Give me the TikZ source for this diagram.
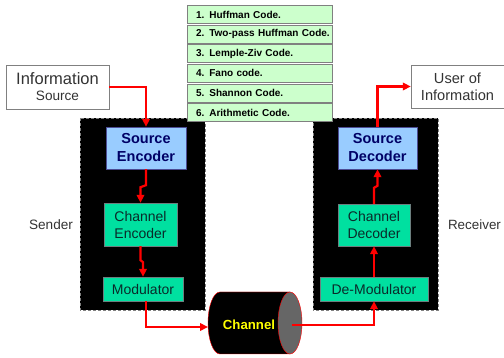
\documentclass[tikz,border=0pt]{standalone}
\usepackage{fontspec}
\setmainfont{Liberation Sans}
\usetikzlibrary{arrows.meta}
\definecolor{vred}{HTML}{FF0000}
\definecolor{vlist}{HTML}{CCFFCC}
\definecolor{vgray}{HTML}{808080}
\definecolor{vblue}{HTML}{99CCFF}
\definecolor{vnavy}{HTML}{000066}
\definecolor{vgreen}{HTML}{00E0A0}
\definecolor{vteal}{HTML}{0A2A2A}
\definecolor{vtext}{HTML}{333333}
\definecolor{vend}{HTML}{666666}
\definecolor{vyellow}{HTML}{FFFF00}

\begin{document}
\begin{tikzpicture}[x=1pt, y=-1pt,
		flow/.style={draw=vred, line width=2.2pt, -{Triangle[length=8pt,width=7.5pt]}},
		codebox/.style={draw=vgray, fill=vlist, minimum width=145, minimum height=18, inner xsep=9, inner ysep=0pt, text width=127, align=left, font=\bfseries\fontsize{10}{12}\selectfont},
		srcbox/.style={draw=vnavy!70, fill=vblue, text=vnavy, inner sep=0pt, align=center, font=\bfseries\fontsize{14.5}{18}\selectfont},
		chbox/.style={draw=vteal!60, fill=vgreen, text=vteal, inner sep=0pt, align=center, font=\fontsize{14}{17}\selectfont},
		endbox/.style={draw=vgray, fill=white, text=vtext, inner sep=0pt, align=center},
		panel/.style={fill=black, draw=vgray, densely dashed, thin}]
		\useasboundingbox (0,0) rectangle (504,358);
		% sender and receiver panels
		\draw[panel] (80,118) rectangle (205,310);
		\draw[panel] (313,118) rectangle (438,310);
		% list of source codes
		\foreach \i/\t in {1/Huffman Code., 2/Two-pass Huffman Code., 3/Lemple-Ziv Code., 4/Fano code., 5/Shannon Code., 6/Arithmetic Code.}
			\node[codebox] (code\i) at (259.5,{14.5 + 19.6*(\i-1)}) {\mbox{\i. \t}};
		% end points
		\node[endbox, minimum width=103, minimum height=44] (infosrc) at (57.5,87) {{\fontsize{16.5}{19}\selectfont Information}\\[4pt]{\fontsize{13.6}{16}\selectfont Source}};
		\node[endbox, minimum width=93, minimum height=43, font=\fontsize{14.6}{17}\selectfont] (user) at (457.5,86.5) {User of\\Information};
		% blocks
		\node[srcbox, minimum width=80, minimum height=42] (srcenc) at (146,148) {Source\\Encoder};
		\node[chbox, minimum width=73, minimum height=43] (chenc) at (140.5,224.5) {Channel\\Encoder};
		\node[chbox, minimum width=80, minimum height=24] (mod) at (143,289) {Modulator};
		\node[srcbox, minimum width=79, minimum height=42] (srcdec) at (377.5,148) {Source\\Decoder};
		\node[chbox, minimum width=72, minimum height=42] (chdec) at (374,225) {Channel\\Decoder};
		\node[chbox, minimum width=108, minimum height=24] (demod) at (374,289) {De-Modulator};
		\node[text=vtext, font=\fontsize{13.6}{16}\selectfont] (sender) at (51,225) {Sender};
		\node[text=vtext, font=\fontsize{13.4}{16}\selectfont] (receiver) at (474.5,225) {Receiver};
		% channel
		\draw[vred, fill=black, thin] (290,292) -- (220,292) arc[start angle=270, end angle=90, x radius=12, y radius=31] -- (290,354);
		\draw[vred, fill=vend, thin] (290,323) ellipse[x radius=12, y radius=31];
		\node[text=vyellow, font=\bfseries\fontsize{13.2}{16}\selectfont] (chan) at (249,325) {Channel};
		\coordinate (chanL) at (208,327);
		\coordinate (chanR) at (292,325);
		% connections
		\draw[flow] (infosrc.east) -| (srcenc.north);
		\draw[flow] (srcenc.south) -- ++(0,16) -- ++(-5.5,2) -- (chenc.north);
		\draw[flow] (chenc.south) -- ++(0,14) -- ++(2.5,2) -- (mod.north);
		\draw[flow] ([xshift=3]mod.south) |- (chanL);
		\draw[flow] (chanR) -| (demod.south);
		\draw[flow] (demod.north) -- (chdec.south);
		\draw[flow] (chdec.north) -- ++(0,-16) -- ++(3.5,-2) -- (srcdec.south);
		\draw[flow] (srcdec.north) |- (user.west);
	\end{tikzpicture}
\end{document}
